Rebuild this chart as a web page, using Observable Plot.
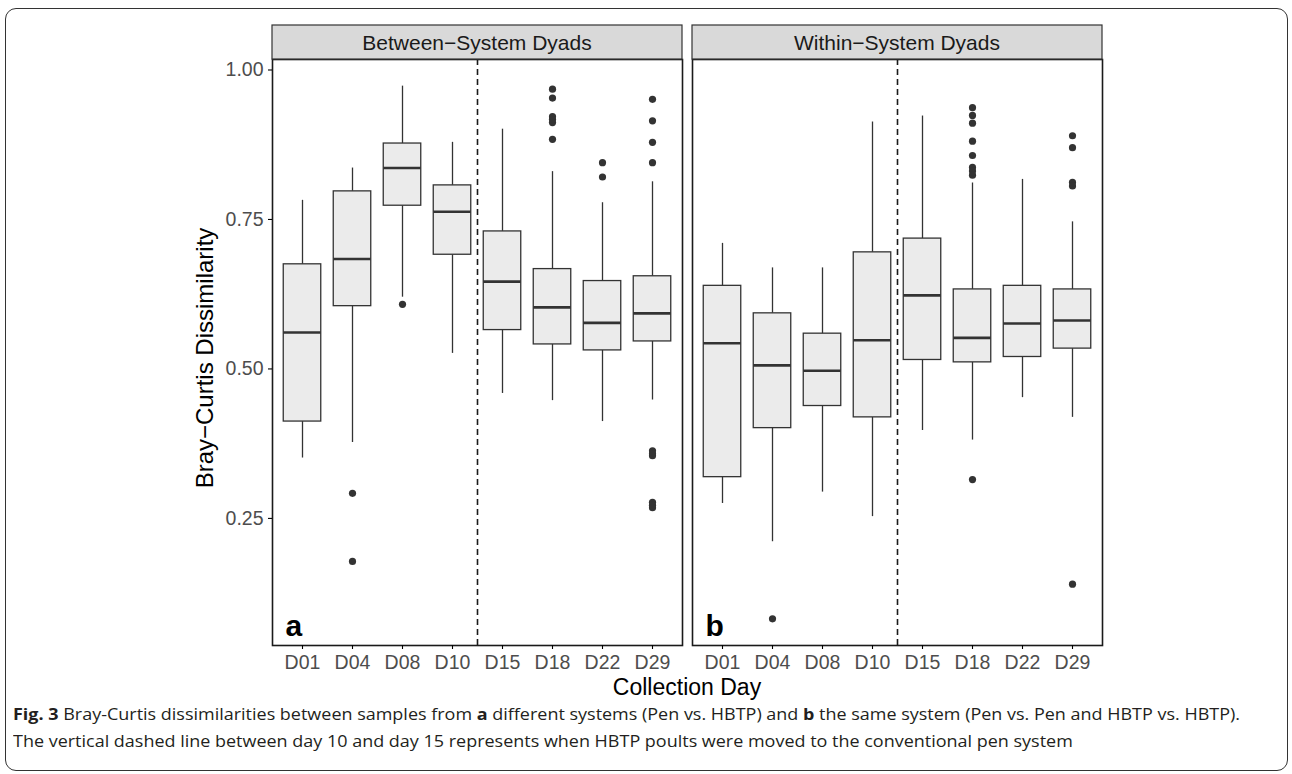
<!DOCTYPE html>
<html><head><meta charset="utf-8">
<script src="https://cdn.jsdelivr.net/npm/d3@7"></script>
<script src="https://cdn.jsdelivr.net/npm/@observablehq/plot@0.6"></script>
<style>
html,body{margin:0;padding:0;background:#fff;}
body{width:1292px;height:774px;position:relative;overflow:hidden;font-family:"Liberation Sans",Arial,sans-serif;}
#frame{position:absolute;left:5px;top:8px;width:1283px;height:763px;border:1.5px solid #333;border-radius:11px;box-sizing:border-box;}
#chart{position:absolute;left:0;top:0;}
#chart svg text{font-family:"Liberation Sans",Arial,sans-serif;}
.cap{position:absolute;left:13px;font-family:"Open Sans",sans-serif;font-size:16.5px;line-height:20px;color:#231f20;white-space:nowrap;transform-origin:0 50%;}
.cap b{font-weight:700;}
g[aria-label="y-axis tick label"], g[aria-label="x-axis tick label"]{fill:#4d4d4d;}
g[aria-label="y-axis tick"], g[aria-label="x-axis tick"]{stroke:#333;stroke-width:1.1;}
</style></head><body>
<div id="frame"></div>
<div id="chart"></div>
<div class="cap" id="cap1" style="top:704px"><b>Fig. 3</b> Bray-Curtis dissimilarities between samples from <b>a</b> different systems (Pen vs. HBTP) and <b>b</b> the same system (Pen vs. Pen and HBTP vs. HBTP).</div>
<div class="cap" id="cap2" style="top:731px">The vertical dashed line between day 10 and day 15 represents when HBTP poults were moved to the conventional pen system</div>
<script>
// ---- data ----
const days = ["D01","D04","D08","D10","D15","D18","D22","D29"];
const panels = ["Between\u2212System Dyads","Within\u2212System Dyads"];
const panelLetters = ["a","b"];
const yTicks = [0.25, 0.50, 0.75, 1.00];
const dividerDays = ["D10","D15"];

const betweenLow    = [0.351, 0.377, 0.620, 0.526, 0.459, 0.447, 0.412, 0.448];
const betweenQ1     = [0.412, 0.605, 0.773, 0.691, 0.565, 0.541, 0.531, 0.546];
const betweenMedian = [0.561, 0.684, 0.836, 0.763, 0.646, 0.603, 0.577, 0.593];
const betweenQ3     = [0.675, 0.797, 0.877, 0.807, 0.730, 0.667, 0.647, 0.655];
const betweenHigh   = [0.782, 0.836, 0.973, 0.879, 0.901, 0.830, 0.778, 0.813];
const betweenOutliers = [["D04",0.292],["D04",0.178],["D08",0.608],
  ["D18",0.968],["D18",0.953],["D18",0.922],["D18",0.917],["D18",0.912],["D18",0.884],
  ["D22",0.845],["D22",0.821],
  ["D29",0.951],["D29",0.915],["D29",0.879],["D29",0.845],["D29",0.363],["D29",0.358],["D29",0.355],["D29",0.277],["D29",0.272],["D29",0.268]];

const withinLow    = [0.275, 0.211, 0.294, 0.253, 0.397, 0.381, 0.452, 0.419];
const withinQ1     = [0.319, 0.401, 0.438, 0.419, 0.515, 0.511, 0.520, 0.534];
const withinMedian = [0.543, 0.506, 0.497, 0.548, 0.623, 0.552, 0.576, 0.581];
const withinQ3     = [0.639, 0.593, 0.559, 0.695, 0.718, 0.633, 0.639, 0.633];
const withinHigh   = [0.710, 0.669, 0.669, 0.913, 0.923, 0.811, 0.817, 0.746];
const withinOutliers = [["D04",0.082],
  ["D18",0.937],["D18",0.924],["D18",0.911],["D18",0.881],["D18",0.857],["D18",0.837],["D18",0.831],["D18",0.824],["D18",0.315],
  ["D29",0.890],["D29",0.870],["D29",0.812],["D29",0.806],["D29",0.140]];

// ---- build tables ----
const idx = d => days.indexOf(d) + 1;
const stats = [
  [betweenLow, betweenQ1, betweenMedian, betweenQ3, betweenHigh],
  [withinLow, withinQ1, withinMedian, withinQ3, withinHigh]
];
const boxes = panels.flatMap((p, k) => days.map((d, i) => ({
  panel: p, day: d, i: idx(d),
  lo: stats[k][0][i], q1: stats[k][1][i], med: stats[k][2][i], q3: stats[k][3][i], hi: stats[k][4][i]
})));
const outliers = [
  ...betweenOutliers.map(([d, v]) => ({panel: panels[0], i: idx(d), value: v})),
  ...withinOutliers.map(([d, v]) => ({panel: panels[1], i: idx(d), value: v}))
];
const letters = panels.map((p, k) => ({panel: p, letter: panelLetters[k]}));
const dividerX = (idx(dividerDays[0]) + idx(dividerDays[1])) / 2;
const dividers = panels.map(p => ({panel: p, x: dividerX}));

const allVals = [...boxes.flatMap(b => [b.lo, b.hi]), ...outliers.map(o => o.value)];
const vMin = d3.min(allVals), vMax = d3.max(allVals);
const pad = 0.05 * (vMax - vMin);
const halfW = 0.375;

const W = 1292, H = 700, panelBottom = 645;
const plot = Plot.plot({
  width: W, height: H,
  marginLeft: 272, marginRight: 190, marginTop: 59, marginBottom: H - panelBottom,
  style: {fontFamily: '"Liberation Sans", Arial, sans-serif', background: "transparent", overflow: "visible"},
  fx: {domain: panels, paddingInner: 0.024, paddingOuter: 0, axis: null, label: null},
  x: {domain: [1 - 0.6, days.length + 0.6], axis: null},
  y: {domain: [vMin - pad, vMax + pad], axis: null},
  marks: [
    Plot.ruleX(dividers, {fx: "panel", x: "x", stroke: "#1a1a1a", strokeWidth: 1.6, strokeDasharray: "6,4"}),
    Plot.ruleX(boxes, {fx: "panel", x: "i", y1: "lo", y2: "q1", stroke: "#333", strokeWidth: 1.3}),
    Plot.ruleX(boxes, {fx: "panel", x: "i", y1: "q3", y2: "hi", stroke: "#333", strokeWidth: 1.3}),
    Plot.rect(boxes, {fx: "panel", x1: d => d.i - halfW, x2: d => d.i + halfW, y1: "q1", y2: "q3",
      fill: "#ebebeb", stroke: "#333", strokeWidth: 1.3}),
    Plot.ruleY(boxes, {fx: "panel", x1: d => d.i - halfW, x2: d => d.i + halfW, y: "med", stroke: "#333", strokeWidth: 2.6}),
    Plot.dot(outliers, {fx: "panel", x: "i", y: "value", r: 3.6, fill: "#333", stroke: null}),
    Plot.frame({stroke: "#1a1a1a", strokeWidth: 1.6}),
    Plot.text(letters, {fx: "panel", text: "letter", frameAnchor: "bottom-left", textAnchor: "start", lineAnchor: "bottom",
      dx: 13, dy: -10, fontSize: 30, fontWeight: "bold", fill: "#000"}),
    Plot.axisY({ticks: yTicks, tickFormat: d3.format(".2f"), tickSize: 4, tickPadding: 5, fontSize: 19.5, label: null}),
    Plot.axisX({ticks: days.map(idx), tickFormat: i => days[i - 1], tickSize: 4, tickPadding: 6, fontSize: 19.5, label: null})
  ]
});
document.getElementById("chart").appendChild(plot);

// facet strips
const fx = plot.scale("fx");
const svg = d3.select(plot);
for (const p of panels) {
  const x0 = fx.apply(p);
  svg.append("rect").attr("x", x0).attr("y", 25).attr("width", fx.bandwidth).attr("height", 34)
    .attr("fill", "#d9d9d9").attr("stroke", "#333").attr("stroke-width", 1.2);
  svg.append("text").attr("x", x0 + fx.bandwidth / 2).attr("y", 42)
    .attr("text-anchor", "middle").attr("dominant-baseline", "central")
    .attr("font-size", 21).attr("fill", "#1a1a1a").text(p);
}
// axis titles
const xr = fx.range;
svg.append("text").attr("x", (xr[0] + xr[1]) / 2).attr("y", 687)
  .attr("text-anchor", "middle").attr("dominant-baseline", "central")
  .attr("font-size", 23).attr("fill", "#000").text("Collection Day");
svg.append("text").attr("transform", "translate(204,358) rotate(-90)")
  .attr("text-anchor", "middle").attr("dominant-baseline", "central")
  .attr("font-size", 24).attr("fill", "#000").text("Bray\u2212Curtis Dissimilarity");

// caption fit to measured width
const c1 = document.getElementById("cap1"), c2 = document.getElementById("cap2");
const s = 1227 / c1.getBoundingClientRect().width;
c1.style.transform = `scaleX(${s})`;
c2.style.transform = `scaleX(${s})`;
</script>
</body></html>
